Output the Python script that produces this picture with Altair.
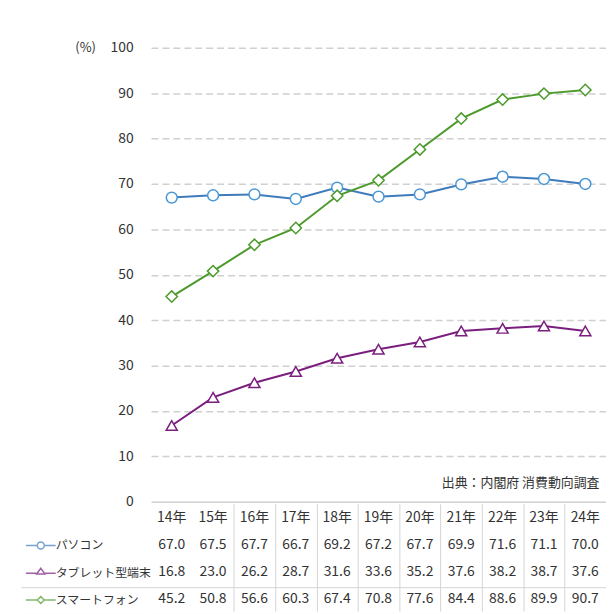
import altair as alt
import pandas as pd

FONT = "Noto Sans CJK JP"

years = ["14年", "15年", "16年", "17年", "18年", "19年", "20年", "21年", "22年", "23年", "24年"]
series = ["パソコン", "タブレット型端末", "スマートフォン"]
pc = [67.0, 67.5, 67.7, 66.7, 69.2, 67.2, 67.7, 69.9, 71.6, 71.1, 70.0]
tablet = [16.8, 23.0, 26.2, 28.7, 31.6, 33.6, 35.2, 37.6, 38.2, 38.7, 37.6]
smart = [45.2, 50.8, 56.6, 60.3, 67.4, 70.8, 77.6, 84.4, 88.6, 89.9, 90.7]
y_ticks = [0, 10, 20, 30, 40, 50, 60, 70, 80, 90, 100]

line_colors = ["#3f7cbc", "#7b1f7f", "#4d9a2c"]
marker_colors = ["#4a97d6", "#7b1f7f", "#4d9a2c"]
marker_shapes = ["circle", "triangle-up", "diamond"]
marker_sizes = [120, 130, 70]
legend_paths = [
    "M-1.5,0H-0.35M0.35,0H1.5M0.35,0A0.35,0.35,0,1,1,-0.35,0A0.35,0.35,0,1,1,0.35,0Z",
    "M-1.5,0H-0.37M0.37,0H1.5M-0.42,0.08L0,-0.5L0.42,0.08Z",
    "M-1.5,0H-0.35M0.35,0H1.5M0,-0.35L0.35,0L0,0.35L-0.35,0Z",
]

rows = []
for s, vals in zip(series, [pc, tablet, smart]):
    for yr, v in zip(years, vals):
        rows.append({"year": yr, "series": s, "value": v})
df = pd.DataFrame(rows)

row_order = ["header"] + series
trows = [{"row": "header", "year": yr, "text": yr} for yr in years]
for s, vals in zip(series, [pc, tablet, smart]):
    for yr, v in zip(years, vals):
        trows.append({"row": s, "year": yr, "text": f"{v:.1f}"})
tdf = pd.DataFrame(trows)

W = 458
H = 457
HB = 111
LINE = "#d4d4d4"

x_top = alt.X(
    "year:N", sort=years,
    scale=alt.Scale(type="point", domain=years, padding=0.5),
    axis=alt.Axis(orient="top", title="出典：内閣府 消費動向調査", labels=False, ticks=False, domain=False, grid=False,
                  titleX=451, titleY=H - 19, titleAlign="right", titleBaseline="middle",
                  titleFont=FONT, titleFontSize=13, titleFontWeight="normal", titleColor="#333333"),
)
y_top = alt.Y(
    "value:Q",
    scale=alt.Scale(domain=[0, 100], nice=False),
    axis=alt.Axis(values=y_ticks, title="(%)", titleAngle=0, titleX=-56, titleY=0,
                  titleAlign="right", titleBaseline="middle", titleFont=FONT, titleFontSize=13,
                  titleFontWeight="normal", titleColor="#333333",
                  domain=False, ticks=False, tickSize=0, labelPadding=18,
                  labelFont=FONT, labelFontSize=14, labelColor="#333333",
                  grid=True, gridColor="#d0d0d0", gridWidth=1.5,
                  gridDash={"condition": {"test": "datum.value === 0", "value": []}, "value": [7, 4]}),
)

lines = alt.Chart(df).mark_line(strokeWidth=2).encode(
    x=x_top, y=y_top,
    color=alt.Color("series:N", scale=alt.Scale(domain=series, range=line_colors), legend=None),
)
points = alt.Chart(df).mark_point(filled=True, fill="white", strokeWidth=1.5, opacity=1).encode(
    x=x_top, y=y_top,
    stroke=alt.Stroke("series:N", scale=alt.Scale(domain=series, range=marker_colors), legend=None),
    shape=alt.Shape("series:N", scale=alt.Scale(domain=series, range=marker_shapes), legend=None),
    size=alt.Size("series:O", scale=alt.Scale(domain=series, range=marker_sizes), legend=None),
)
top = alt.layer(lines, points).properties(width=W, height=H)

x_bot = alt.X(
    "year:N", sort=years,
    scale=alt.Scale(type="band", domain=years, paddingInner=0, paddingOuter=0),
    axis=alt.Axis(title=None, labels=False, ticks=False, domain=False, grid=True, tickBand="extent",
                  gridWidth=1,
                  gridColor={"condition": {"test": "datum.value === '14年' || !isValid(datum.value)", "value": "transparent"}, "value": LINE}),
)
row_cond = {"condition": {"test": "datum.value === 'タブレット型端末' || datum.value === 'スマートフォン'", "value": LINE}, "value": "transparent"}
y_bot = alt.Y(
    "row:N", sort=row_order,
    scale=alt.Scale(type="band", domain=row_order, paddingInner=0, paddingOuter=0, range=[3, HB]),
    axis=alt.Axis(title=None, labels=False, domain=False, ticks=True, tickSize=131, tickBand="extent",
                  tickWidth=1, grid=True, gridWidth=1,
                  tickColor=row_cond, gridColor=row_cond),
)

table_text = alt.Chart(tdf).mark_text(font=FONT, fontSize=14, color="#333333", dy=-2).encode(
    x=x_bot, y=y_bot, text="text:N",
)

leg = dict(orient="none", legendX=-122, legendY=31, title=None, labelFont=FONT, labelFontSize=12,
           labelColor="#333333", symbolSize=400, symbolStrokeWidth=1.5, symbolFillColor="white",
           rowPadding=10, padding=0, labelOffset=4, labelLimit=200)
legend_layer = alt.Chart(df).transform_filter("false").mark_point(filled=False, strokeWidth=1.5).encode(
    color=alt.Color("series:N", scale=alt.Scale(domain=series, range=line_colors), legend=alt.Legend(**leg)),
    shape=alt.Shape("series:N", scale=alt.Scale(domain=series, range=legend_paths), legend=alt.Legend(**leg)),
)
bottom = alt.layer(table_text, legend_layer).properties(width=W, height=HB)

chart = alt.vconcat(top, bottom, spacing=2, bounds="flush").resolve_scale(
    x="independent", y="independent", color="independent", shape="independent",
    stroke="independent", size="independent",
).resolve_legend(color="independent", shape="independent").properties(
    padding={"left": 12, "top": 31, "right": 0, "bottom": 0}
).configure_view(stroke="transparent", strokeWidth=0)

chart.save("out.html", embed_options={"renderer": "svg", "actions": False})
